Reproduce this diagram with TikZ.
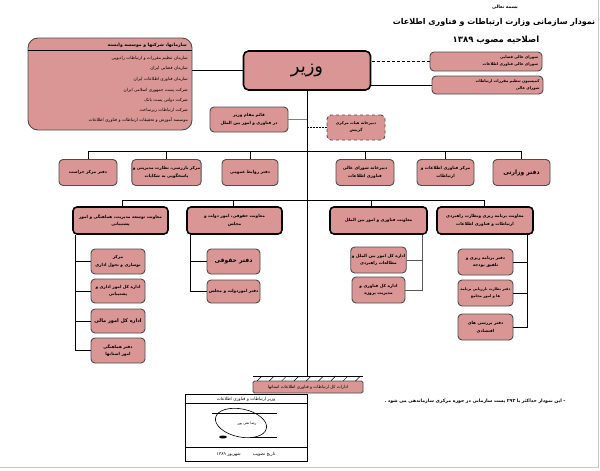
\documentclass[tikz,border=0pt]{standalone}
\usepackage{fontspec}
\newfontfamily\fa[Script=Arabic]{DejaVu Sans}
\TeXXeTstate=1
\newcommand{\RL}[1]{\beginR #1\endR}
\definecolor{boxfill}{HTML}{D99694}
\definecolor{boxline}{HTML}{4D4D4D}
\begin{document}
\begin{tikzpicture}[x=1pt,y=-1pt,
  box/.style={draw=boxline, line width=0.9pt, fill=boxfill, rounded corners=4pt, inner sep=1pt, align=center, font=\fa\bfseries\fontsize{4.2}{7.5}\selectfont},
  thickbox/.style={box, draw=black, line width=1.6pt},
  conn/.style={draw=black, line width=0.8pt},
  txt/.style={inner sep=0pt, font=\fa\fontsize{4.3}{6}\selectfont},
  btxt/.style={inner sep=0pt, font=\fa\bfseries\fontsize{4.5}{6}\selectfont}]
\useasboundingbox (0,0) rectangle (600,471);
\fill[white] (0,0) rectangle (600,471);
\draw[gray!45, line width=0.8pt] (598,0) -- (598,467) -- (0,467);

% titles
\node[btxt, font=\fa\bfseries\fontsize{4.5}{6}\selectfont] (t0) at (505,7) {\RL{بسمه تعالی}};
\node[btxt, font=\fa\bfseries\fontsize{8}{10}\selectfont] (t1) at (494,22) {\RL{نمودار سازمانی وزارت ارتباطات و فناوری اطلاعات}};
\node[btxt, font=\fa\bfseries\fontsize{8.5}{10}\selectfont] (t2) at (496,40) {\RL{اصلاحیه مصوب ۱۳۸۹}};

% left box
\node[draw=boxline, line width=0.9pt, fill=boxfill, rounded corners=10pt, minimum width=164, minimum height=92] (lb) at (110,84) {};
\draw[black, line width=0.6pt] (28,50) -- (192,50);
\node[btxt, anchor=east] (lt) at (187,45.5) {\RL{سازمانها، شرکتها و موسسه وابسته}};
\node[txt, anchor=east] (l1) at (188,58) {\RL{سازمان تنظیم مقررات و ارتباطات رادیویی}};
\node[txt, anchor=east] (l2) at (188,68.5) {\RL{سازمان فضایی ایران}};
\node[txt, anchor=east] (l3) at (188,79.5) {\RL{سازمان فناوری اطلاعات ایران}};
\node[txt, anchor=east] (l4) at (188,90.5) {\RL{شرکت پست جمهوری اسلامی ایران}};
\node[txt, anchor=east] (l5) at (188,100.5) {\RL{شرکت دولتی پست بانک}};
\node[txt, anchor=east] (l6) at (188,110.5) {\RL{شرکت ارتباطات زیرساخت}};
\node[txt, anchor=east] (l7) at (188,120) {\RL{موسسه آموزش و تحقیقات ارتباطات و فناوری اطلاعات}};

% minister
\node[thickbox, rounded corners=5pt, minimum width=127, minimum height=39, font=\fa\fontsize{18}{20}\selectfont] (vazir) at (307,70.5) {\RL{وزیر}};

% right boxes
\node[box, minimum width=112, minimum height=19, text width=104, align=right, font=\fa\bfseries\fontsize{3.8}{7}\selectfont] (r1) at (486,61.5) {\RL{شورای عالی فضایی}\\\RL{شورای عالی فناوری اطلاعات}};
\node[box, minimum width=111, minimum height=18, text width=104, align=right, font=\fa\bfseries\fontsize{3.8}{7}\selectfont] (r2) at (487.5,85) {\RL{کمیسیون تنظیم مقررات ارتباطات}\\\RL{شورای عالی}};

\node[box, minimum width=78, minimum height=25] (qaem) at (249,119.5) {\RL{قائم مقام وزیر}\\\RL{در فناوری و امور بین الملل}};
\node[box, dashed, minimum width=58, minimum height=25, font=\fa\bfseries\fontsize{3.8}{7}\selectfont] (dabir) at (356,127.5) {\RL{دبیرخانه هیات مرکزی}\\\RL{گزینش}};

% row 2
\node[box, minimum width=58, minimum height=26] (b1) at (88,172.5) {\RL{دفتر مرکز حراست}};
\node[box, minimum width=63, minimum height=26] (b2) at (166.5,172.5) {\RL{مرکز بازرسی، نظارت مدیریتی و}\\\RL{پاسخگویی به شکایات}};
\node[box, minimum width=56, minimum height=26] (b3) at (250,172.5) {\RL{دفتر روابط عمومی}};
\node[box, minimum width=58, minimum height=26] (b4) at (365,172.5) {\RL{دبیرخانه شورای عالی}\\\RL{فناوری اطلاعات}};
\node[box, minimum width=57, minimum height=26] (b5) at (445.5,172.5) {\RL{مرکز فناوری اطلاعات و}\\\RL{ارتباطات}};
\node[box, minimum width=57, minimum height=26, font=\fa\bfseries\fontsize{6}{8}\selectfont] (b6) at (521.5,172.5) {\RL{دفتر وزارتی}};

% row 3
\node[thickbox, minimum width=95, minimum height=27] (A) at (120.5,220.5) {\RL{معاونت توسعه مدیریت، هماهنگی و امور}\\\RL{پشتیبانی}};
\node[thickbox, minimum width=95, minimum height=27] (B) at (234.5,220.5) {\RL{معاونت حقوقی، امور دولت و}\\\RL{مجلس}};
\node[thickbox, minimum width=97, minimum height=27] (C) at (378.5,220.5) {\RL{معاونت فناوری و امور بین الملل}};
\node[thickbox, minimum width=96, minimum height=27] (D) at (485,220.5) {\RL{معاونت برنامه ریزی ونظارت راهبردی}\\\RL{ارتباطات و فناوری اطلاعات}};

% sub A
\node[box, minimum width=54, minimum height=25] (A1) at (118,261.5) {\RL{مرکز}\\\RL{نوسازی و تحول اداری}};
\node[box, minimum width=54, minimum height=24] (A2) at (118,291) {\RL{اداره کل امور اداری و}\\\RL{پشتیبانی}};
\node[box, minimum width=54, minimum height=24, font=\fa\bfseries\fontsize{5}{7}\selectfont] (A3) at (118,321) {\RL{اداره کل امور مالی}};
\node[box, minimum width=54, minimum height=25] (A4) at (118,350.5) {\RL{دفتر هماهنگی}\\\RL{امور استانها}};
% sub B
\node[box, minimum width=53, minimum height=25, font=\fa\bfseries\fontsize{6}{8}\selectfont] (B1) at (233.5,261.5) {\RL{دفتر حقوقی}};
\node[box, minimum width=53, minimum height=23] (B2) at (233.5,291.5) {\RL{دفتر اموردولت و مجلس}};
% sub C
\node[box, minimum width=53, minimum height=26] (C1) at (378.5,260) {\RL{اداره کل امور بین الملل و}\\\RL{مطالعات راهبردی}};
\node[box, minimum width=53, minimum height=26] (C2) at (378.5,290) {\RL{اداره کل فناوری و}\\\RL{مدیریت پروژه}};
% sub D
\node[box, minimum width=55, minimum height=26] (D1) at (485.5,262) {\RL{دفتر برنامه ریزی و}\\\RL{تلفیق بودجه}};
\node[box, minimum width=55, minimum height=26, font=\fa\bfseries\fontsize{3.7}{7.5}\selectfont] (D2) at (485.5,293) {\RL{دفتر نظارت ،ارزیابی برنامه}\\\RL{ها و امور مجامع}};
\node[box, minimum width=55, minimum height=26] (D3) at (485.5,327) {\RL{دفتر بررسی های}\\\RL{اقتصادی}};

% provinces
\coordinate (hL) at (253,376);
\coordinate (hR) at (363,376);
\coordinate (tEnd) at (307,376);
\node[box, rounded corners=1.5pt, minimum width=110, minimum height=12, font=\fa\fontsize{4.2}{6}\selectfont] (P) at (308,387) {\RL{ادارات کل ارتباطات و فناوری اطلاعات استانها}};
\draw[conn] (hL) -- (hR);
\foreach \i in {0,...,8} \draw[black, line width=0.5pt] (262+\i*12.3,376) -- ++(-5,5);

% connectors
\draw[conn] (vazir.south) -- (tEnd);
\draw[conn] (vazir.west) -- (vazir.west -| lb.east);
\draw[conn, dashed, dash pattern=on 3pt off 2pt] (r1.west) -- (r1.west -| vazir.east);
\draw[conn] (r2.west) -- (r2.west -| vazir.east);
\draw[conn, gray] (qaem.east) -- (qaem.east -| vazir.south);
\draw[conn, dashed, dash pattern=on 1.5pt off 1.5pt] (dabir.west) -- (dabir.west -| vazir.south);
\coordinate (bar2) at (307,151);
\foreach \n in {b1,b2,b3,b4,b5,b6} \draw[conn] (\n.north) |- (bar2);
\coordinate (bar3) at (307,200);
\draw[conn] ([xshift=1.5pt]A.north) |- (bar3);
\draw[conn] ([xshift=-1.5pt]B.north) |- (bar3);
\draw[conn] ([xshift=-7.5pt]C.north) |- (bar3);
\draw[conn] ([xshift=-1pt]D.north) |- (bar3);
\foreach \n in {A1,A2,A3,A4} \draw[conn] ([xshift=3pt]A.south west) |- (\n.west);
\foreach \n in {B1,B2} \draw[conn] ([xshift=4pt]B.south west) |- (\n.west);
\foreach \n in {C1,C2} \draw[conn, gray!70!black] ([xshift=-5pt]C.south east) |- (\n.east);
\foreach \n in {D1,D2,D3} \draw[conn] ([xshift=-6pt]D.south east) |- (\n.east);

% signature block
\node[draw=black, line width=0.7pt, minimum width=122, minimum height=67, inner sep=0pt] (sig) at (246,427.5) {};
\draw[black, line width=0.5pt] (185,403) -- (307,403);
\draw[black, line width=0.5pt] (185,447) -- (307,447);
\node[txt] (sh) at (246,399) {\RL{وزیر ارتباطات و فناوری اطلاعات}};
\node[txt] (sf) at (246,454.5) {\RL{تاریخ تصویب\hspace{12pt}شهریور ۱۳۸۹}};
\draw[black, line width=0.4pt] (212,413) -- (277,413);
\draw[black, line width=0.6pt, rotate around={-12:(241,423)}] (241,423) ellipse (26 and 14);
\node[txt, font=\fa\fontsize{3.6}{5}\selectfont] (sn) at (247,424) {\RL{رضا تقی پور}};
\fill[black] (223,437) ellipse (4 and 1.5);
\draw[black, line width=0.4pt] (250,437) -- (277,437);

% note
\node[btxt, font=\fa\bfseries\fontsize{4.6}{6}\selectfont] (note) at (475,401) {\RL{- این نمودار حداکثر با ۲۹۳ پست سازمانی در حوزه مرکزی سازماندهی می شود .}};
\end{tikzpicture}
\end{document}
